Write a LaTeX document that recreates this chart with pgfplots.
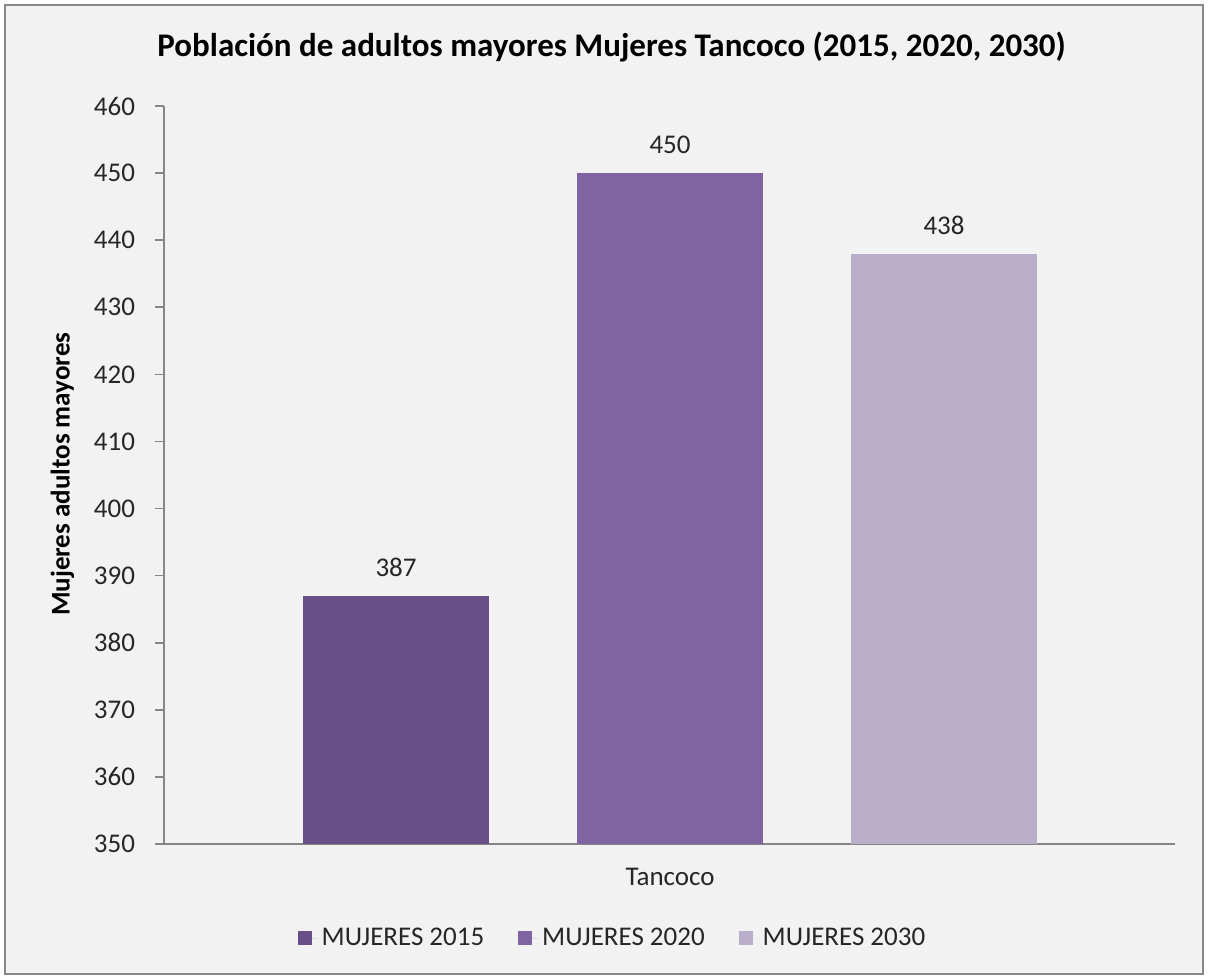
\documentclass[border=0pt]{standalone}
\usepackage{pgfplots}
\pgfplotsset{compat=1.18}
\usepackage{fontspec}
\setmainfont{Carlito}
\definecolor{bgc}{HTML}{F2F2F2}
\definecolor{bordc}{HTML}{888888}
\definecolor{axc}{HTML}{868686}
\definecolor{cA}{HTML}{694F87}
\definecolor{cB}{HTML}{8064A2}
\definecolor{cC}{HTML}{BAAFCA}
\definecolor{txt}{HTML}{262626}
\pgfplotsset{/pgf/number format/assume math mode=true}
\begin{document}
\begin{tikzpicture}[x=1pt,y=1pt]
\fill[white] (0,0) rectangle (604,489.5);
\draw[bordc, fill=bgc, line width=0.7pt] (2.5,2.5) rectangle (601.5,487);
\node[anchor=base west, font=\fontsize{16.5}{19}\selectfont\bfseries, text=black, inner sep=0pt] at (78.5,461) {Población de adultos mayores Mujeres Tancoco (2015, 2020, 2030)};
\begin{axis}[
  at={(82pt,67.5pt)}, anchor=south west,
  scale only axis, width=505.5pt, height=369pt,
  xmin=-1.847, xmax=1.843, ymin=350, ymax=460,
  ytick distance=10,
  xtick={0}, xticklabels={Tancoco},
  axis lines*=left,
  axis line style={axc, line width=0.8pt},
  tick align=outside, major tick length=4.5pt,
  xtick style={draw=none}, ytick style={axc, line width=0.8pt},
  ticklabel style={font=\fontsize{13.5}{16}\selectfont, text=txt},
  xticklabel style={yshift=-4pt},
  yticklabel style={xshift=-6.5pt},
  ylabel={Mujeres adultos mayores},
  ylabel style={at={(axis description cs:-0.1004,0.501)}, anchor=center, font=\fontsize{13.5}{16}\selectfont\bfseries, text=black},
  ybar, bar width=93pt, bar shift=0pt,
  nodes near coords,
  every node near coord/.append style={font=\fontsize{13.5}{16}\selectfont, text=txt, yshift=6pt},
  legend columns=3,
  legend style={at={(axis description cs:0.4446,-0.1274)}, anchor=center, draw=none, fill=none,
    font=\fontsize{13.5}{16}\selectfont, text=txt,
    /tikz/every even column/.append style={column sep=15pt}},
  legend image code/.code={\fill[#1,draw=none] (0pt,-3.5pt) rectangle (7pt,3.5pt); \path (0pt,0pt) -- (10pt,0pt);},
  clip=false,
]
\addplot[fill=cA, draw=none] coordinates {(-1,387)};
\addplot[fill=cB, draw=none] coordinates {(0,450)};
\addplot[fill=cC, draw=none] coordinates {(1,438)};
\legend{MUJERES 2015, MUJERES 2020, MUJERES 2030}
\end{axis}
\end{tikzpicture}
\end{document}
